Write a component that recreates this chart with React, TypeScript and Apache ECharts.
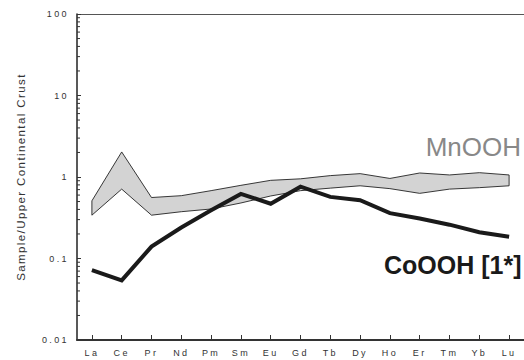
import React, { useEffect, useRef } from 'react';
import * as echarts from 'echarts';

// Rare earth elements, normalised to upper continental crust
const categories = ['La', 'Ce', 'Pr', 'Nd', 'Pm', 'Sm', 'Eu', 'Gd', 'Tb', 'Dy', 'Ho', 'Er', 'Tm', 'Yb', 'Lu'];
const coOOH = [0.072, 0.054, 0.14, 0.24, 0.39, 0.62, 0.47, 0.76, 0.57, 0.52, 0.36, 0.31, 0.26, 0.21, 0.185];
const mnOOHUpper = [0.51, 2.03, 0.56, 0.59, 0.68, 0.79, 0.91, 0.95, 1.04, 1.1, 0.96, 1.12, 1.06, 1.13, 1.06];
const mnOOHLower = [0.34, 0.71, 0.34, 0.375, 0.405, 0.48, 0.585, 0.68, 0.73, 0.78, 0.72, 0.63, 0.71, 0.74, 0.78];

const yTickLabels = ['0.01', '0.1', '1', '10', '100'];
const decades = [0.01, 0.1, 1, 10];
const minorSteps = [2, 3, 4, 5, 6, 7, 8, 9];

const FONT = '"Liberation Sans", Arial, Helvetica, sans-serif';

// Axis texts are set with wide tracking
const css = `
.ree-chart text[style*="9px"] { letter-spacing: 2.4px; }
.ree-chart text[style*="11.5px"] { letter-spacing: 1.4px; }
`;

export default function App() {
  const ref = useRef<HTMLDivElement>(null);

  useEffect(() => {
    const chart = echarts.init(ref.current!, null, { renderer: 'svg' });

    const minorValues: number[] = [];
    decades.forEach((d) => minorSteps.forEach((m) => minorValues.push(d * m)));

    chart.setOption({
      animation: false,
      backgroundColor: '#fff',
      textStyle: { fontFamily: FONT },
      grid: {
        left: 77,
        top: 14,
        width: 458,
        height: 326,
        show: false,
      },
      xAxis: [
        {
          type: 'category',
          data: categories,
          boundaryGap: true,
          axisLine: { show: true, lineStyle: { color: '#333', width: 2 } },
          axisTick: { show: true, inside: true, alignWithLabel: true, length: 5, lineStyle: { color: '#333', width: 1 } },
          axisLabel: { color: '#333', fontSize: 9, margin: 8, fontFamily: FONT, interval: 0 },
          splitLine: { show: false },
        },
        {
          // frame line along the top of the plot
          type: 'category',
          position: 'top',
          data: categories,
          axisLine: { show: true, lineStyle: { color: '#555', width: 1 } },
          axisTick: { show: false },
          axisLabel: { show: false },
          splitLine: { show: false },
        },
      ],
      yAxis: {
        type: 'log',
        logBase: 10,
        min: 0.01,
        max: 100,
        name: 'Sample/Upper Continental Crust',
        nameLocation: 'middle',
        nameGap: 50,
        nameTextStyle: { color: '#333', fontSize: 11.5, fontFamily: FONT },
        axisLine: { show: true, lineStyle: { color: '#222', width: 1.5 } },
        axisTick: { show: true, inside: true, length: 4, lineStyle: { color: '#333', width: 1 } },
        axisLabel: {
          color: '#333',
          fontSize: 9,
          margin: 8,
          fontFamily: FONT,
          formatter: (v: number) => {
            const exp = Math.round(Math.log10(v));
            return yTickLabels[exp + 2] ?? String(v);
          },
        },
        splitLine: { show: false },
      },
      series: [
        {
          // MnOOH range drawn as a filled band between the lower and upper bounds
          type: 'custom',
          name: 'MnOOH',
          data: [[0, 1]],
          z: 2,
          silent: true,
          renderItem: (params: any, api: any) => {
            const pts: number[][] = [];
            mnOOHUpper.forEach((v, i) => pts.push(api.coord([i, v])));
            for (let i = mnOOHLower.length - 1; i >= 0; i--) pts.push(api.coord([i, mnOOHLower[i]]));
            return {
              type: 'polygon',
              shape: { points: pts },
              style: { fill: '#d3d3d3', stroke: '#222', lineWidth: 0.9 },
            };
          },
        },
        {
          // Minor logarithmic ticks on the value axis
          type: 'custom',
          name: 'minorTicks',
          data: [[0, 1]],
          z: 3,
          silent: true,
          renderItem: (params: any, api: any) => {
            const x0 = params.coordSys.x;
            const children = minorValues.map((v) => {
              const y = api.coord([0, v])[1];
              return {
                type: 'line',
                shape: { x1: x0, y1: y, x2: x0 + 3, y2: y },
                style: { stroke: '#333', lineWidth: 1 },
              };
            });
            return { type: 'group', children };
          },
        },
        {
          type: 'line',
          name: 'CoOOH [1*]',
          data: coOOH,
          z: 4,
          symbol: 'none',
          lineStyle: { color: '#1a1a1a', width: 4, join: 'miter', cap: 'butt' },
        },
      ],
      graphic: [
        {
          type: 'text',
          x: 521,
          y: 147,
          style: {
            text: 'MnOOH',
            align: 'right',
            verticalAlign: 'middle',
            fontSize: 26,
            fontFamily: FONT,
            fill: '#888',
          },
        },
        {
          type: 'text',
          x: 384,
          y: 265,
          style: {
            text: 'CoOOH [1*]',
            align: 'left',
            verticalAlign: 'middle',
            fontSize: 25,
            fontWeight: 'bold',
            fontFamily: FONT,
            fill: '#1a1a1a',
          },
        },
      ],
    });

    return () => chart.dispose();
  }, []);

  return (
    <>
      <style>{css}</style>
      <div
        ref={ref}
        className="ree-chart"
        style={{ position: 'fixed', left: 0, top: 0, width: 524, height: 360, background: '#fff' }}
      />
    </>
  );
}
